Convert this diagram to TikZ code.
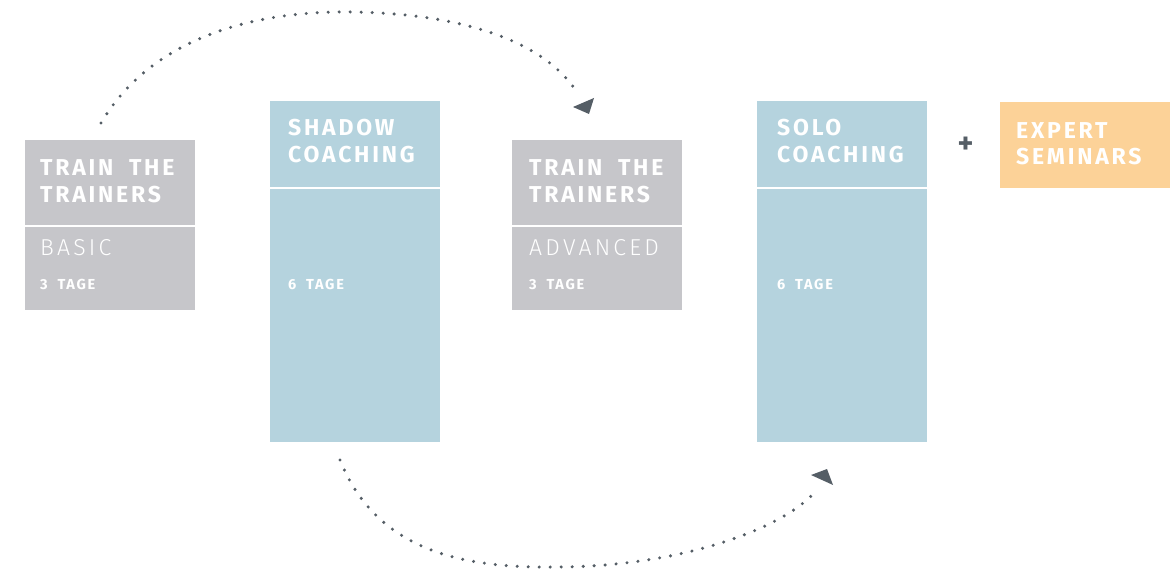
\documentclass[tikz,border=0pt]{standalone}
\usepackage{fontspec}
\setmainfont{Fira Sans}
\newfontfamily\hdfont[LetterSpace=12,WordSpace=1.9]{Fira Sans}
\newfontfamily\ltfont[LetterSpace=14]{Fira Sans Light}
\definecolor{boxgray}{HTML}{C6C6CA}
\definecolor{boxblue}{HTML}{B5D3DE}
\definecolor{boxorange}{HTML}{FCD298}
\definecolor{dotgray}{HTML}{555E66}
\tikzset{
  panel/.style={anchor=north west, inner sep=0pt, minimum width=170pt},
  head/.style={anchor=base west, inner sep=0pt, text=white, font=\hdfont\bfseries\fontsize{23}{26}\selectfont, align=left},
  sub/.style={anchor=base west, inner sep=0pt, text=white, font=\ltfont\fontsize{23}{26}\selectfont},
  days/.style={anchor=base west, inner sep=0pt, text=white, font=\hdfont\bfseries\fontsize{14.5}{16}\selectfont},
  divider/.style={white, line width=1.6pt},
  dotline/.style={dotgray, line width=3.4pt, line cap=round, dash pattern=on 0pt off 11pt},
  tip/.style={fill=dotgray, draw=none}
}
\begin{document}
\begin{tikzpicture}[x=1pt,y=-1pt]
\useasboundingbox (0,0) rectangle (1176,569);
% boxes
\node[panel, fill=boxgray, minimum height=170pt] (b1) at (25,140) {};
\node[panel, fill=boxblue, minimum height=341pt] (b2) at (270,101) {};
\node[panel, fill=boxgray, minimum height=170pt] (b3) at (512,140) {};
\node[panel, fill=boxblue, minimum height=341pt] (b4) at (757,101) {};
\node[panel, fill=boxorange, minimum height=86pt] (b5) at (1000,101.5) {};
% dividers
\draw[divider] (b1.west |- 0,226) -- (b1.east |- 0,226);
\draw[divider] (b2.west |- 0,188) -- (b2.east |- 0,188);
\draw[divider] (b3.west |- 0,226) -- (b3.east |- 0,226);
\draw[divider] (b4.west |- 0,188) -- (b4.east |- 0,188);
% texts box 1
\node[head] (t1a) at (40,176) {TRAIN THE};
\node[head] (t1b) at (40,202.5) {TRAINERS};
\node[sub] (t1c) at (40,256) {BASIC};
\node[days] (t1d) at (40,290) {3 TAGE};
% box 2
\node[head] (t2a) at (288,136) {SHADOW};
\node[head] (t2b) at (288,162.5) {COACHING};
\node[days] (t2d) at (288,290) {6 TAGE};
% box 3
\node[head] (t3a) at (529,176) {TRAIN THE};
\node[head] (t3b) at (529,202.5) {TRAINERS};
\node[sub] (t3c) at (529,256) {ADVANCED};
\node[days] (t3d) at (529,290) {3 TAGE};
% box 4
\node[head] (t4a) at (777,136) {SOLO};
\node[head] (t4b) at (777,162.5) {COACHING};
\node[days] (t4d) at (777,290) {6 TAGE};
% box 5
\node[head] (t5a) at (1016,138.5) {EXPERT};
\node[head] (t5b) at (1016,164.5) {SEMINARS};
% plus
\node[inner sep=0pt, text=dotgray, font=\bfseries\fontsize{30}{30}\selectfont] (plus) at (965.5,145) {+};
% arcs
\coordinate (a1s) at (101,123);
\coordinate (a1m) at (355,12);
\coordinate (a1e) at (578,94);
\draw[dotline] (a1s) .. controls (150,40) and (250,10) .. (a1m) .. controls (460,14) and (545,40) .. (a1e);
\fill[tip] (573,107) -- (594,98) -- (589,114) -- cycle;
\coordinate (a2s) at (340,460);
\coordinate (a2m) at (560,567);
\coordinate (a2e) at (814,493);
\draw[dotline] (a2s) .. controls (380,560) and (480,568) .. (a2m) .. controls (680,566) and (780,530) .. (a2e);
\fill[tip] (811,475) -- (827,469) -- (833,485) -- cycle;
\end{tikzpicture}
\end{document}
